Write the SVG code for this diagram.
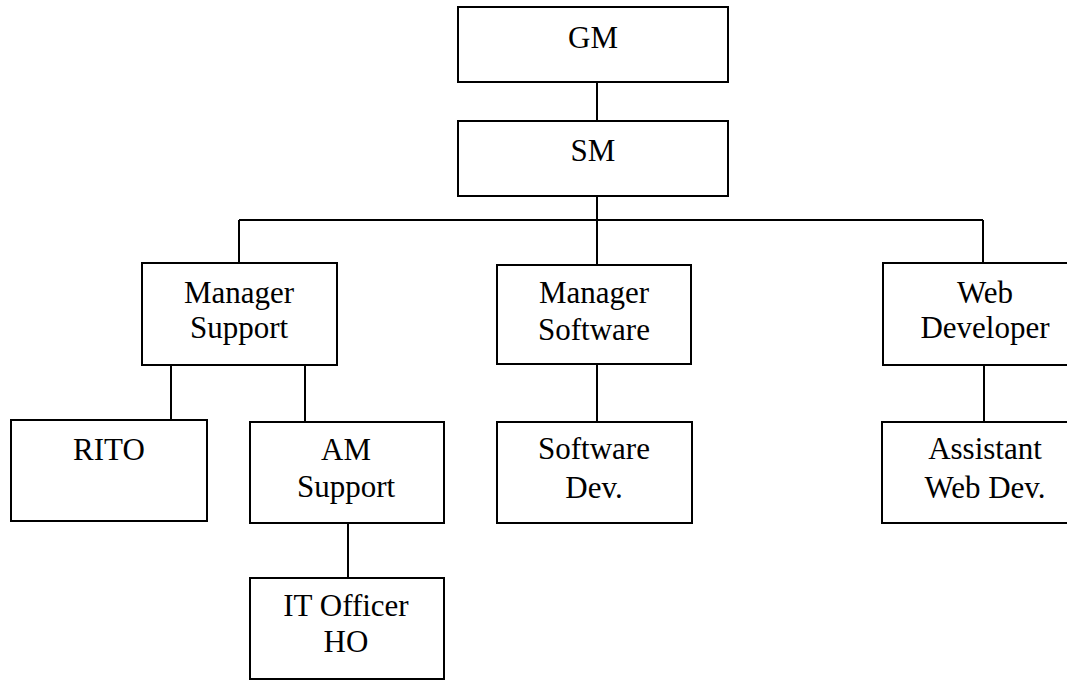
<svg xmlns="http://www.w3.org/2000/svg" width="1067" height="680" viewBox="0 0 1067 680">
  <style>
    .box { fill: #ffffff; stroke: #000000; stroke-width: 2; }
    .link { fill: none; stroke: #000000; stroke-width: 2; }
    .label { font-family: "Liberation Serif", "Times New Roman", serif; font-size: 31px; fill: #000000; text-anchor: middle; }
  </style>
  <rect x="0" y="0" width="1067" height="680" fill="#ffffff"/>

  <!-- reporting lines -->
  <g id="connectors">
    <line class="link" x1="597" y1="82" x2="597" y2="121"/>
    <line class="link" x1="597" y1="196" x2="597" y2="265"/>
    <line class="link" x1="239" y1="220" x2="983" y2="220"/>
    <line class="link" x1="239" y1="220" x2="239" y2="263"/>
    <line class="link" x1="983" y1="220" x2="983" y2="263"/>
    <line class="link" x1="171" y1="365" x2="171" y2="420"/>
    <line class="link" x1="305" y1="365" x2="305" y2="422"/>
    <line class="link" x1="348" y1="523" x2="348" y2="578"/>
    <line class="link" x1="597" y1="364" x2="597" y2="422"/>
    <line class="link" x1="984" y1="365" x2="984" y2="422"/>
  </g>

  <g id="gm">
    <rect class="box" x="458" y="7" width="270" height="75"/>
    <text class="label" x="593" y="48">GM</text>
  </g>

  <g id="sm">
    <rect class="box" x="458" y="121" width="270" height="75"/>
    <text class="label" x="593" y="161">SM</text>
  </g>

  <g id="manager-support">
    <rect class="box" x="142" y="263" width="195" height="102"/>
    <text class="label" x="239" y="303">Manager</text>
    <text class="label" x="239" y="338">Support</text>
  </g>

  <g id="manager-software">
    <rect class="box" x="497" y="265" width="194" height="99"/>
    <text class="label" x="594" y="303">Manager</text>
    <text class="label" x="594" y="340">Software</text>
  </g>

  <g id="web-developer">
    <rect class="box" x="883" y="263" width="205" height="102"/>
    <text class="label" x="985" y="303">Web</text>
    <text class="label" x="985" y="338">Developer</text>
  </g>

  <g id="rito">
    <rect class="box" x="11" y="420" width="196" height="101"/>
    <text class="label" x="109" y="460">RITO</text>
  </g>

  <g id="am-support">
    <rect class="box" x="250" y="422" width="194" height="101"/>
    <text class="label" x="346" y="460">AM</text>
    <text class="label" x="346" y="497">Support</text>
  </g>

  <g id="it-officer">
    <rect class="box" x="250" y="578" width="194" height="101"/>
    <text class="label" x="346" y="616">IT Officer</text>
    <text class="label" x="346" y="652">HO</text>
  </g>

  <g id="software-dev">
    <rect class="box" x="497" y="422" width="195" height="101"/>
    <text class="label" x="594" y="459">Software</text>
    <text class="label" x="594" y="498">Dev.</text>
  </g>

  <g id="assistant-web-dev">
    <rect class="box" x="882" y="422" width="206" height="101"/>
    <text class="label" x="985" y="459">Assistant</text>
    <text class="label" x="985" y="498">Web Dev.</text>
  </g>
</svg>
